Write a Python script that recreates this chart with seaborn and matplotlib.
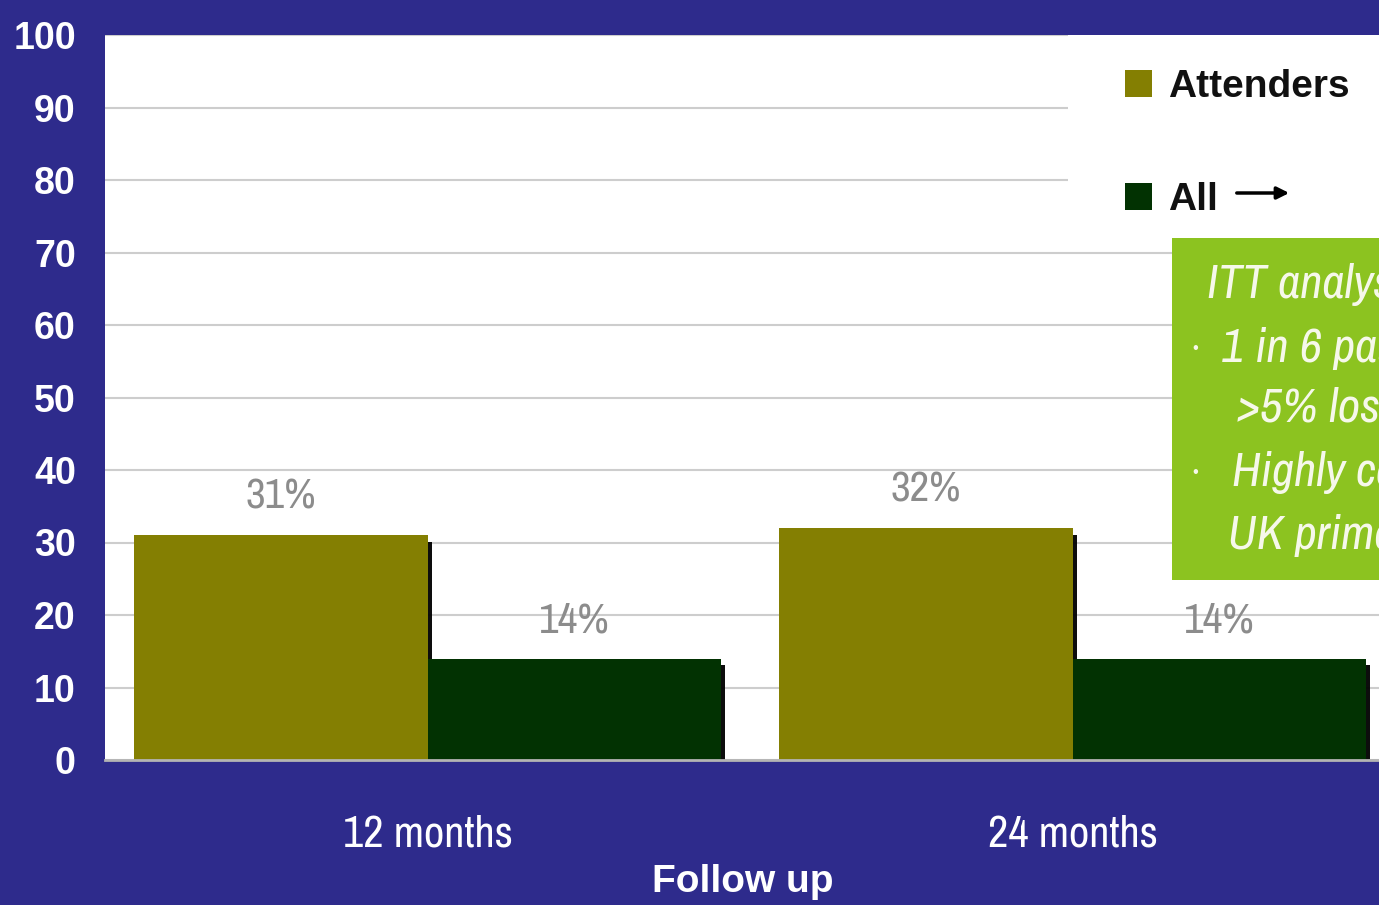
import numpy as np
import pandas as pd
import seaborn as sns
import matplotlib.pyplot as plt
import matplotlib.patheffects as pe
from matplotlib.patches import Rectangle, Patch
from matplotlib import font_manager

# Data
periods = ["12 months", "24 months"]
groups = ["Attenders", "All"]
attenders = [31, 32]
all_patients = [14, 14]
y_ticks = list(range(0, 101, 10))
note_lines = ["ITT analysis:", "1 in 6 patients achieved", ">5% loss of body weight",
              "Highly cost-effective in", "UK primary care"]

BG = "#2e2b8c"
OLIVE = "#847f02"
DARK = "#023202"
BOX_GREEN = "#8cc320"
GRID = "#cdcdcd"

W, H = 1379, 905

sns.set_style("white")
installed = {f.name for f in font_manager.fontManager.ttflist}
NARROW = next((n for n in ("Liberation Sans Narrow", "Archivo Narrow", "Barlow Semi Condensed")
               if n in installed), "Liberation Sans")
plt.rcParams["font.family"] = ["Liberation Sans", "DejaVu Sans"]
narrow_family = [NARROW, "DejaVu Sans"]

df = pd.DataFrame({
    "period": periods * 2,
    "group": [groups[0]] * len(periods) + [groups[1]] * len(periods),
    "pct": attenders + all_patients,
})

fig = plt.figure(figsize=(W / 100, H / 100), dpi=100, facecolor=BG)
ax = fig.add_axes([105 / W, 1 - 760 / H, 1290 / W, 725 / H])
ax.set_facecolor("white")

sns.barplot(data=df, x="period", y="pct", hue="group", palette=[OLIVE, DARK],
            width=0.91, saturation=1, legend=False, ax=ax, linewidth=0)

# drop shadow on the right of each bar
for bar in ax.patches:
    bar.set_path_effects([pe.SimplePatchShadow(offset=(3, -5), shadow_rgbFace="black", alpha=0.95),
                          pe.Normal()])

# value labels
for cont in ax.containers:
    vals = [b.get_height() for b in cont]
    ax.bar_label(cont, labels=[f"{v:.0f}%" for v in vals], padding=14,
                 fontsize=31, color="#8c8c8c", family=narrow_family)

ax.set_ylim(0, 100)
ax.set_xlim(-0.5, 1.5)
ax.set_yticks(y_ticks)
ax.set_yticklabels([str(t) for t in y_ticks], fontsize=27, fontweight="bold", color="white")
ax.tick_params(axis="y", length=9, width=1.5, color="#b8b8b8", pad=12)

ax.set_xticks(range(len(periods)))
ax.set_xticklabels(periods, fontsize=32, color="white", family=narrow_family)
ax.set_xticks([-0.5, 0.5, 1.5], minor=True)
ax.tick_params(axis="x", which="major", length=0, pad=39)
ax.tick_params(axis="x", which="minor", length=7, width=1.5, color="#b8b8b8")

ax.set_xlabel("Follow up", fontsize=28, fontweight="bold", color="white")
ax.xaxis.label.set_va("center")
ax.xaxis.set_label_coords((743 - 105) / 1290, (760 - 882) / 725)
ax.set_ylabel("")

ax.yaxis.grid(True, color=GRID, lw=1.5)
ax.set_axisbelow(True)
for side in ("left", "top", "right"):
    ax.spines[side].set_visible(False)
ax.spines["bottom"].set_color("#b4b4b4")
ax.spines["bottom"].set_linewidth(2)

# white area behind the legend
ax.add_patch(Rectangle(((1068 - 105) / 1290, (760 - 235) / 725), 1, 1,
                       transform=ax.transAxes, facecolor="white", edgecolor="none",
                       zorder=0.7))

handles = [Patch(facecolor=c, edgecolor="none") for c in (OLIVE, DARK)]
leg = ax.legend(handles, groups, loc="upper left",
                bbox_to_anchor=(1125 / W, 1 - 69 / H), bbox_transform=fig.transFigure,
                frameon=False, prop={"weight": "bold", "size": 28},
                handlelength=0.7, handleheight=0.7, handletextpad=0.4,
                labelspacing=1.98, borderpad=0, borderaxespad=0)
for t in leg.get_texts():
    t.set_color("#111111")

ax.annotate("", xy=(1292 / W, 1 - 193 / H), xytext=(1234 / W, 1 - 193 / H),
            xycoords="figure fraction", textcoords="figure fraction",
            arrowprops=dict(arrowstyle="-|>", color="black", lw=2.5, mutation_scale=18))

# green note box (runs off the right edge of the slide)
fig.add_artist(Rectangle((1172 / W, 1 - 580 / H), 400 / W, 342 / H,
                         transform=fig.transFigure, facecolor=BOX_GREEN,
                         edgecolor="none", zorder=3))
note_font = dict(fontsize=35, style="italic", color="#f6f8ea", va="center",
                 family=narrow_family, zorder=4)
text_x = [1207, 1222, 1237, 1232, 1228]
text_y = [285, 348, 408, 472, 535]
for s, x, y in zip(note_lines, text_x, text_y):
    fig.text(x / W, 1 - y / H, s, **note_font)
for y in (348, 472):
    fig.text(1195 / W, 1 - y / H, "\u2022", fontsize=12, color="#f6f8ea",
             va="center", ha="center", zorder=4)

fig.savefig("out.png", dpi=100, facecolor=BG)
